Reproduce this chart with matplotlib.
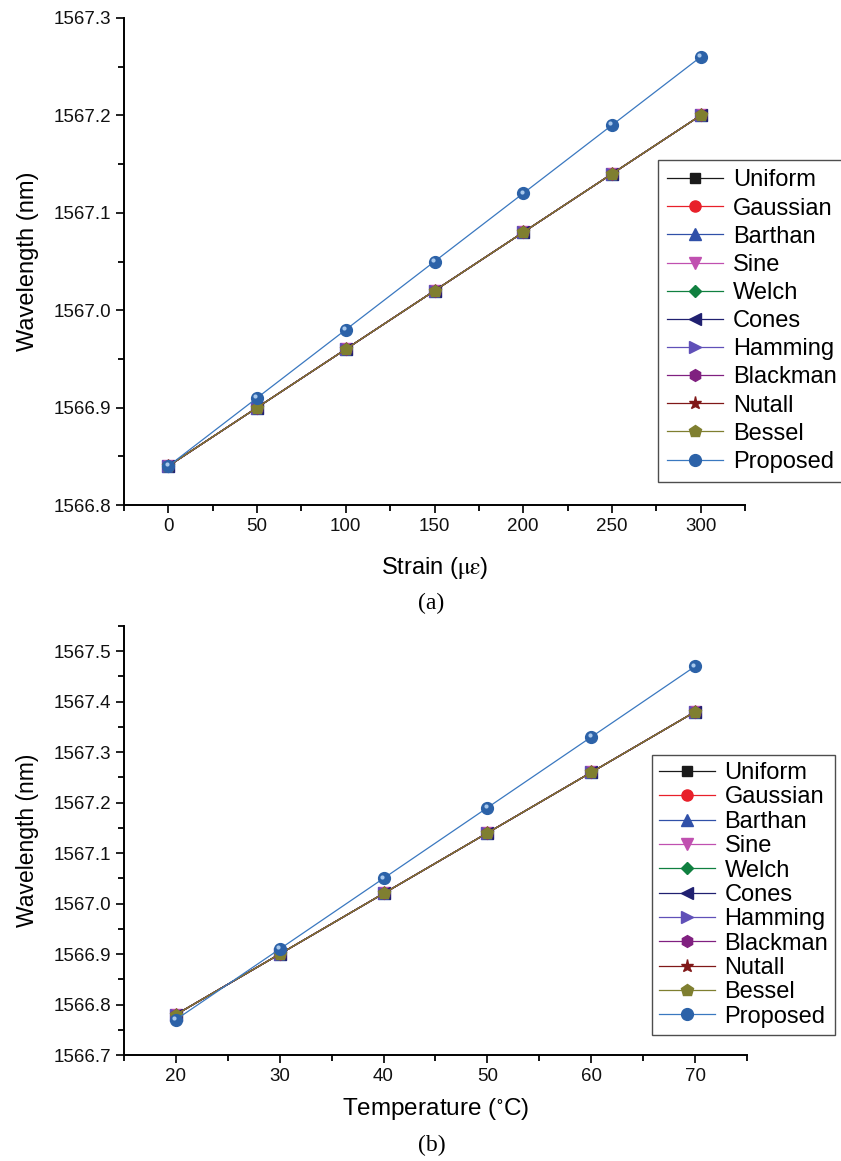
import matplotlib
matplotlib.use('Agg')
import matplotlib.pyplot as plt
import matplotlib.transforms as mtransforms

plt.rcParams['font.family'] = ['Liberation Sans', 'DejaVu Sans']
plt.rcParams['mathtext.fontset'] = 'stix'

# strain test
strain = [0, 50, 100, 150, 200, 250, 300]
wl_strain_windows = [1566.84, 1566.90, 1566.96, 1567.02, 1567.08, 1567.14, 1567.20]
wl_strain_proposed = [1566.84, 1566.91, 1566.98, 1567.05, 1567.12, 1567.19, 1567.26]

# temperature test
temp = [20, 30, 40, 50, 60, 70]
wl_temp_windows = [1566.78, 1566.90, 1567.02, 1567.14, 1567.26, 1567.38]
wl_temp_proposed = [1566.77, 1566.91, 1567.05, 1567.19, 1567.33, 1567.47]

windows = ['Uniform', 'Gaussian', 'Barthan', 'Sine', 'Welch', 'Cones',
           'Hamming', 'Blackman', 'Nutall', 'Bessel']
markers = ['s', 'o', '^', 'v', 'D', '<', '>', 'h', '*', 'p']
colors = ['#1a1a1a', '#e8202a', '#3050a8', '#c050b0', '#108040', '#202070',
          '#6050b8', '#802080', '#801818', '#7f7f30']
msizes = [7, 8, 8.5, 8.5, 6.5, 8.5, 8.5, 8.5, 9.5, 9]


def draw(ax, x, y_win, y_prop, fig):
    for name, m, c, ms in zip(windows, markers, colors, msizes):
        ax.plot(x, y_win, color=c, lw=0.9, marker=m, ms=ms, mfc=c, mec=c,
                label=name)
    ax.plot(x, y_prop, color='#3a78c0', lw=0.9, marker='o', ms=8.5,
            mfc='#2c62a8', mec='#2c62a8', label='Proposed')
    # little highlight on the spheres
    off = mtransforms.ScaledTranslation(-1.2 / 72, 1.2 / 72, fig.dpi_scale_trans)
    ax.plot(x, y_prop, ls='none', marker='o', ms=3, mfc='#a8c8ec', mec='none',
            transform=ax.transData + off)
    for s in ['top', 'right']:
        ax.spines[s].set_visible(False)
    for s in ['left', 'bottom']:
        ax.spines[s].set_linewidth(1.4)
    ax.tick_params(which='major', direction='out', length=6, width=1.3,
                   labelsize=13.5, colors='#111111')
    ax.tick_params(which='minor', direction='out', length=4, width=1.3)


fig = plt.figure(figsize=(8.41, 11.61), dpi=100)

ax1 = fig.add_axes([0.1474, 0.565, 0.7385, 0.4195])
draw(ax1, strain, wl_strain_windows, wl_strain_proposed, fig)
ax1.set_xlim(-25, 325)
ax1.set_ylim(1566.8, 1567.3)
ax1.set_xticks([0, 50, 100, 150, 200, 250, 300])
ax1.set_xticks(range(-25, 326, 25), minor=True)
ax1.set_yticks([1566.8, 1566.9, 1567.0, 1567.1, 1567.2, 1567.3])
ax1.set_yticks([1566.85, 1566.95, 1567.05, 1567.15, 1567.25], minor=True)
ax1.set_yticklabels(['1566.8', '1566.9', '1567.0', '1567.1', '1567.2', '1567.3'])
ax1.set_xlabel(r'Strain ($\mathrm{\mu\varepsilon}$)', fontsize=17, labelpad=14)
ax1.set_ylabel('Wavelength (nm)', fontsize=17, labelpad=10)
leg1 = ax1.legend(loc='upper left', bbox_to_anchor=(0.7824, 0.8622),
                  bbox_transform=fig.transFigure, fontsize=17, frameon=True,
                  fancybox=False, edgecolor='#222222', handlelength=2.35,
                  handletextpad=0.42, labelspacing=0.26, borderpad=0.4,
                  borderaxespad=0)
leg1.get_frame().set_linewidth(1.0)

ax2 = fig.add_axes([0.1474, 0.0913, 0.7408, 0.3695])
draw(ax2, temp, wl_temp_windows, wl_temp_proposed, fig)
ax2.set_xlim(15, 75)
ax2.set_ylim(1566.7, 1567.55)
ax2.set_xticks([20, 30, 40, 50, 60, 70])
ax2.set_xticks(range(15, 76, 5), minor=True)
ax2.set_yticks([1566.7, 1566.8, 1566.9, 1567.0, 1567.1, 1567.2, 1567.3,
                1567.4, 1567.5])
ax2.set_yticks([1566.75, 1566.85, 1566.95, 1567.05, 1567.15, 1567.25,
                1567.35, 1567.45, 1567.55], minor=True)
ax2.set_yticklabels(['1566.7', '1566.8', '1566.9', '1567.0', '1567.1',
                     '1567.2', '1567.3', '1567.4', '1567.5'])
ax2.set_xlabel(r'Temperature ($^{\circ}$C)', fontsize=17.5, labelpad=8)
ax2.set_ylabel('Wavelength (nm)', fontsize=16.5, labelpad=10)
leg2 = ax2.legend(loc='upper left', bbox_to_anchor=(0.7753, 0.3497),
                  bbox_transform=fig.transFigure, fontsize=17, frameon=True,
                  fancybox=False, edgecolor='#222222', handlelength=2.35,
                  handletextpad=0.42, labelspacing=0.1, borderpad=0.3,
                  borderaxespad=0)
leg2.get_frame().set_linewidth(1.0)

fig.text(0.513, 1 - 603 / 1161, '(a)', ha='center', va='center', fontsize=17,
         family='Liberation Serif')
fig.text(0.513, 1 - 1145 / 1161, '(b)', ha='center', va='center', fontsize=17,
         family='Liberation Serif')

fig.savefig('out.png', dpi=100)
